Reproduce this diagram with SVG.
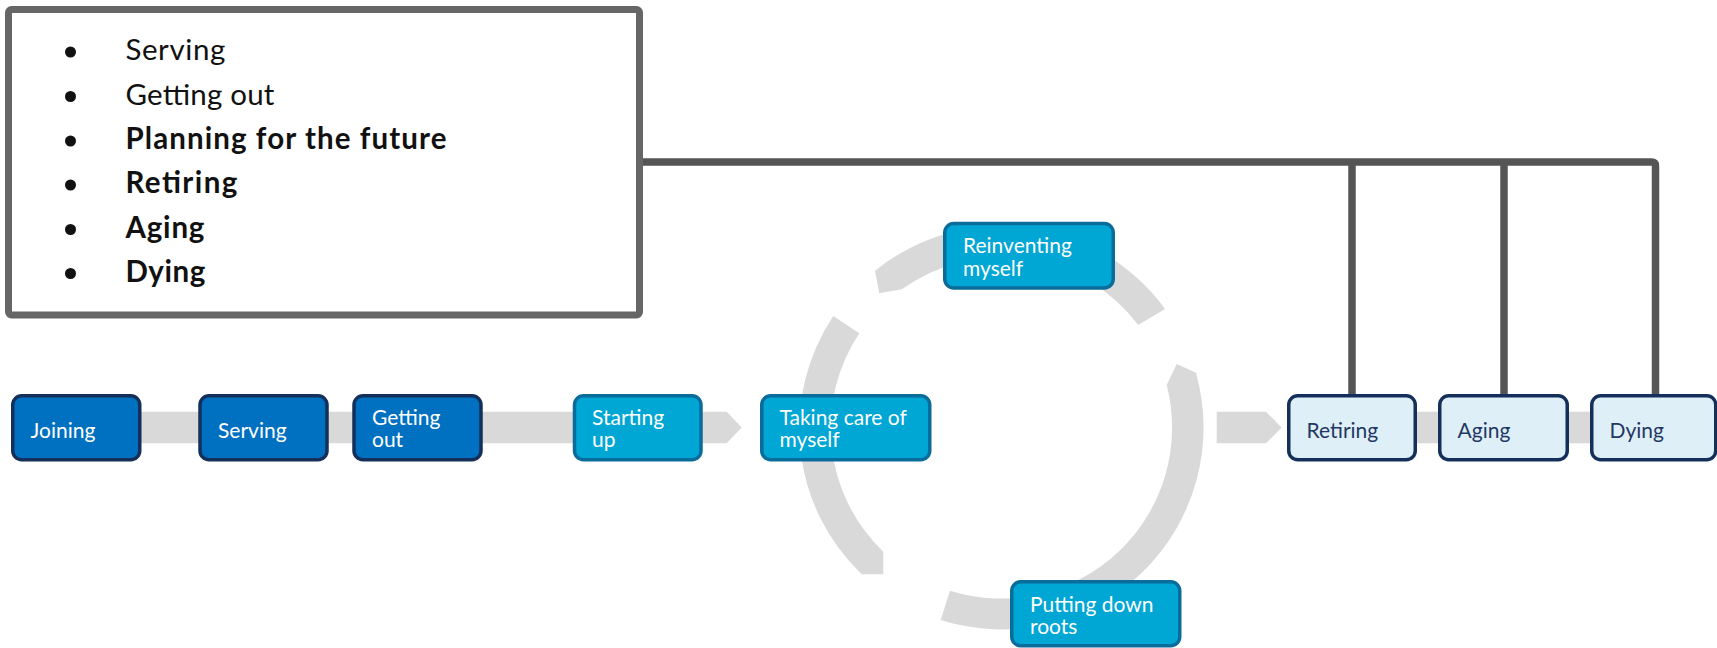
<svg xmlns="http://www.w3.org/2000/svg" width="1717" height="648" viewBox="0 0 1717 648">
  <style>
    .band { fill: #d9d9d9; }
    .conn { fill: none; stroke: #555555; stroke-width: 7.5; stroke-linejoin: round; }
    .legend-box { fill: #ffffff; stroke: #666666; stroke-width: 7; }
    .lt { font-family: "Source Sans Pro", Lato, "Noto Sans", sans-serif; font-size: 29.5px; fill: #111111; }
    .b { font-weight: bold; }
    .dot { fill: #111111; }
    .dark rect { fill: #0070c0; stroke: #14305a; stroke-width: 3.5; }
    .mid rect { fill: #00a6d4; stroke: #0a6c9a; stroke-width: 3.5; }
    .pale rect { fill: #dfeff8; stroke: #14305a; stroke-width: 3.5; }
    .nt { font-family: "Source Sans Pro", Lato, "Noto Sans", sans-serif; font-size: 21px; fill: #ffffff; }
    .pale .nt { fill: #1f3864; }
  </style>

  <!-- background flow bands and cycle arcs -->
  <g id="bands">
    <polygon class="band" points="70,411.7 726.7,411.7 741.7,427.5 726.7,443.3 70,443.3"/>
    <polygon class="band" points="1216.7,411.7 1266,411.7 1281.7,427.5 1266,443.3 1216.7,443.3"/>
    <rect class="band" x="1350" y="411.7" width="300" height="31.6"/>
    <path class="band" d="M879.3,293.3 L875,270.7 A202,202 0 0 1 1165,309 L1138.3,325 A171,171 0 0 0 901.7,289.3 Z"/>
    <path class="band" d="M1176.7,364 L1196,372.7 A202,202 0 0 1 940.7,620 L950,590.7 A171,171 0 0 0 1166.7,385 Z"/>
    <path class="band" d="M883.3,574.3 L861.7,574.3 A202,202 0 0 1 833.3,316 L859.3,333.3 A171,171 0 0 0 883.3,551.7 Z"/>
  </g>

  <!-- connectors from legend -->
  <g id="connectors">
    <path class="conn" d="M643,162 H1651.5 Q1655.5,162 1655.5,166 V396"/>
    <path class="conn" d="M1352,162 V396"/>
    <path class="conn" d="M1504,162 V396"/>
  </g>

  <g id="legend">
    <rect class="legend-box" x="8.5" y="9.5" width="631" height="305.5" rx="3"/>
    <circle class="dot" cx="70.5" cy="52" r="5.5"/>
    <circle class="dot" cx="70.5" cy="96.5" r="5.5"/>
    <circle class="dot" cx="70.5" cy="141" r="5.5"/>
    <circle class="dot" cx="70.5" cy="185" r="5.5"/>
    <circle class="dot" cx="70.5" cy="229.5" r="5.5"/>
    <circle class="dot" cx="70.5" cy="273.5" r="5.5"/>
    <text class="lt" x="125.4" y="60" textLength="100">Serving</text>
    <text class="lt" x="125.4" y="104.5" textLength="149">Getting out</text>
    <text class="lt b" x="125.4" y="149" textLength="321">Planning for the future</text>
    <text class="lt b" x="125.4" y="193" textLength="112">Retiring</text>
    <text class="lt b" x="125.4" y="237.5" textLength="79">Aging</text>
    <text class="lt b" x="125.4" y="281.5" textLength="80">Dying</text>
  </g>

  <g id="joining" class="dark">
    <rect x="12.75" y="395.75" width="127" height="64" rx="9"/>
    <text class="nt" x="30.5" y="437.5">Joining</text>
  </g>
  <g id="serving" class="dark">
    <rect x="200" y="395.75" width="127" height="64" rx="9"/>
    <text class="nt" x="218" y="437.5">Serving</text>
  </g>
  <g id="getting-out" class="dark">
    <rect x="354" y="395.75" width="127" height="64" rx="9"/>
    <text class="nt" x="372" y="424.5">Getting</text>
    <text class="nt" x="372" y="447">out</text>
  </g>
  <g id="starting-up" class="mid">
    <rect x="574.5" y="395.75" width="126.5" height="64" rx="9"/>
    <text class="nt" x="592" y="424.5">Starting</text>
    <text class="nt" x="592" y="447">up</text>
  </g>
  <g id="taking-care" class="mid">
    <rect x="761.75" y="395.75" width="168" height="64" rx="9"/>
    <text class="nt" x="779.5" y="424.5">Taking care of</text>
    <text class="nt" x="779.5" y="447">myself</text>
  </g>
  <g id="reinventing" class="mid">
    <rect x="944.75" y="223.5" width="168.5" height="64.5" rx="9"/>
    <text class="nt" x="963" y="253">Reinventing</text>
    <text class="nt" x="963" y="275.5">myself</text>
  </g>
  <g id="putting-down-roots" class="mid">
    <rect x="1011.75" y="581.75" width="168" height="64" rx="9"/>
    <text class="nt" x="1030" y="611.7">Putting down</text>
    <text class="nt" x="1030" y="633.5">roots</text>
  </g>
  <g id="retiring" class="pale">
    <rect x="1288.75" y="395.75" width="126.5" height="64" rx="9"/>
    <text class="nt" x="1306.5" y="437.5">Retiring</text>
  </g>
  <g id="aging" class="pale">
    <rect x="1439.75" y="395.75" width="127.5" height="64" rx="9"/>
    <text class="nt" x="1457.5" y="437.5">Aging</text>
  </g>
  <g id="dying" class="pale">
    <rect x="1591.75" y="395.75" width="124" height="64" rx="9"/>
    <text class="nt" x="1609.5" y="437.5">Dying</text>
  </g>
</svg>
